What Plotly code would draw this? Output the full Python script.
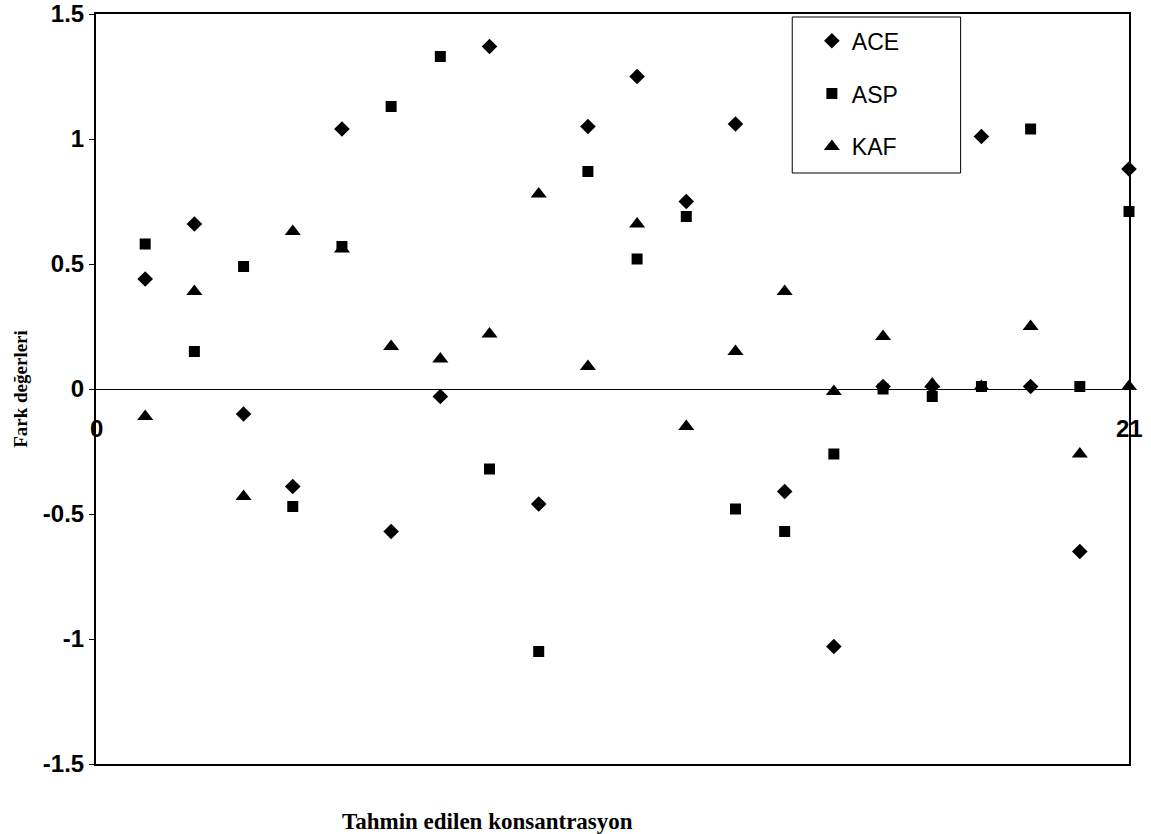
import plotly.graph_objects as go

# Data
x_vals = list(range(1, 22))
ace = [0.44, 0.66, -0.10, -0.39, 1.04, -0.57, -0.03, 1.37, -0.46, 1.05, 1.25,
       0.75, 1.06, -0.41, -1.03, 0.01, 0.01, 1.01, 0.01, -0.65, 0.88]
asp = [0.58, 0.15, 0.49, -0.47, 0.57, 1.13, 1.33, -0.32, -1.05, 0.87, 0.52,
       0.69, -0.48, -0.57, -0.26, 0.00, -0.03, 0.01, 1.04, 0.01, 0.71]
kaf = [-0.11, 0.39, -0.43, 0.63, 0.56, 0.17, 0.12, 0.22, 0.78, 0.09, 0.66,
       -0.15, 0.15, 0.39, -0.01, 0.21, 0.02, 0.01, 0.25, -0.26, 0.01]
series_names = ["ACE", "ASP", "KAF"]
y_ticks = [-1.5, -1, -0.5, 0, 0.5, 1, 1.5]
y_tick_text = ["-1.5", "-1", "-0.5", "0", "0.5", "1", "1.5"]
x_end_labels = [0, 21]

sans = "Arial, Liberation Sans, sans-serif"
serif = "Times New Roman, Liberation Serif, serif"

fig = go.Figure()
symbols = ["diamond", "square", "triangle-up"]
sizes = [12, 11, 14]
for i, (name, vals) in enumerate(zip(series_names, [ace, asp, kaf])):
    fig.add_trace(go.Scatter(
        x=x_vals, y=vals, mode="markers", name=name,
        legendgroup=name, cliponaxis=False,
        marker=dict(symbol=symbols[i], size=sizes[i], color="black",
                    line=dict(width=0)),
    ))

for xv in x_end_labels:
    fig.add_annotation(x=xv, y=0, xref="x", yref="y", text=str(xv),
                       showarrow=False, yanchor="top", xanchor="center",
                       yshift=-24,
                       font=dict(family=sans, size=24, color="black", weight="bold"))

# x-axis title
fig.add_annotation(x=(487 - 96) / 1033, y=-0.077, xref="paper", yref="paper",
                   text="Tahmin edilen konsantrasyon", showarrow=False,
                   xanchor="center", yanchor="middle",
                   font=dict(family=serif, size=23, color="black", weight="bold"))

# legend box
fig.add_shape(type="rect", xref="paper", yref="paper",
              x0=0.674, x1=0.837, y0=0.788, y1=0.996,
              line=dict(color="black", width=1), fillcolor="rgba(0,0,0,0)")

fig.update_layout(
    width=1151, height=834,
    margin=dict(l=96, r=22, t=14, b=70),
    paper_bgcolor="white", plot_bgcolor="white",
    showlegend=True,
    legend=dict(x=0.693, y=0.993, xanchor="left", yanchor="top",
                bgcolor="rgba(0,0,0,0)", borderwidth=0,
                traceorder="grouped", tracegroupgap=20,
                font=dict(family=sans, size=23, color="black"),
                itemwidth=30),
    xaxis=dict(range=[0, 21], showgrid=False, zeroline=False,
               showticklabels=False, ticks="", automargin=False,
               showline=True, linecolor="black", linewidth=1.5, mirror=True),
    yaxis=dict(range=[-1.5, 1.5], showgrid=False, automargin=False,
               ticklabeloverflow="allow",
               zeroline=True, zerolinecolor="black", zerolinewidth=1,
               tickvals=y_ticks, ticktext=y_tick_text,
               ticks="outside", ticklen=5, tickcolor="black", tickwidth=1,
               tickfont=dict(family=sans, size=24, color="black", weight="bold"),
               showline=True, linecolor="black", linewidth=2, mirror=True,
               title=dict(text="Fark değerleri", standoff=10,
                          font=dict(family=serif, size=19, color="black", weight="bold"))),
)

fig.write_html("out.html")
